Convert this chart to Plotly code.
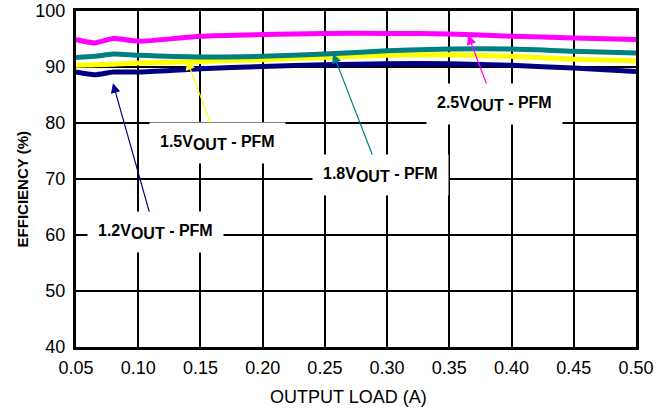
import plotly.graph_objects as go

load_a = [0.05, 0.065, 0.08, 0.10, 0.15, 0.20, 0.25, 0.30, 0.35, 0.40, 0.45, 0.50]
eff_1v2 = [89.1, 88.6, 89.1, 89.1, 89.7, 90.1, 90.4, 90.6, 90.6, 90.3, 89.8, 89.2]
eff_1v5 = [90.3, 90.4, 90.5, 90.7, 91.0, 91.3, 91.7, 92.1, 92.2, 91.9, 91.4, 91.1]
eff_1v8 = [91.7, 91.9, 92.3, 92.1, 91.8, 91.9, 92.3, 92.9, 93.2, 93.2, 92.8, 92.5]
eff_2v5 = [94.9, 94.3, 95.1, 94.6, 95.5, 95.8, 96.0, 96.0, 95.9, 95.5, 95.2, 94.9]

x_ticks = [0.05, 0.10, 0.15, 0.20, 0.25, 0.30, 0.35, 0.40, 0.45, 0.50]
x_ticktext = ["0.05", "0.10", "0.15", "0.20", "0.25", "0.30", "0.35", "0.40", "0.45", "0.50"]
y_ticks = [40, 50, 60, 70, 80, 90, 100]
x_title = "OUTPUT LOAD (A)"
y_title = "EFFICIENCY (%)"

series = [
    ("1.2V", eff_1v2, "#000080"),
    ("1.5V", eff_1v5, "#FFFF00"),
    ("1.8V", eff_1v8, "#008080"),
    ("2.5V", eff_2v5, "#FF00FF"),
]

fig = go.Figure()
for name, ys, col in series:
    fig.add_trace(go.Scatter(x=load_a, y=ys, mode="lines", name=name, cliponaxis=False,
                             line=dict(color=col, width=5, shape="spline", smoothing=0.6)))

SUB = '<sub><span style="font-size:16px">OUT</span></sub>'
labels = [
    # volts, text-center (x,y), arrow head (x,y), color
    ("1.2V", 0.1135, 60.5, 0.0797, 87.1, "#000080"),
    ("1.5V", 0.1641, 76.4, 0.1392, 91.2, "#FFFF00"),
    ("1.8V", 0.2944, 70.7, 0.2566, 92.4, "#008080"),
    ("2.5V", 0.3860, 83.4, 0.3651, 95.7, "#FF00FF"),
]
for volts, tx, ty, hx, hy, col in labels:
    fig.add_annotation(x=hx, y=hy, ax=tx, ay=ty, xref="x", yref="y", axref="x", ayref="y",
                       text="<b>" + volts + SUB + " - PFM</b>", showarrow=True, arrowhead=2,
                       arrowsize=1.6, arrowwidth=1.2, arrowcolor=col, bgcolor="white",
                       borderpad=10,
                       font=dict(family="Liberation Sans, Arial", size=16, color="black"))

# axis titles placed as annotations (paper coords)
fig.add_annotation(text=x_title, xref="paper", yref="paper", x=0.4866, y=-0.1488,
                   xanchor="center", yanchor="middle", showarrow=False,
                   font=dict(family="Liberation Sans, Arial", size=18, color="black"))
fig.add_annotation(text="<b>" + y_title + "</b>", xref="paper", yref="paper", x=-0.0964, y=0.469,
                   xanchor="center", yanchor="middle", showarrow=False, textangle=-90,
                   font=dict(family="Liberation Sans, Arial", size=15, color="black"))

fig.update_layout(
    width=669, height=410,
    margin=dict(l=76, r=33, t=11, b=63),
    paper_bgcolor="white", plot_bgcolor="white",
    showlegend=False,
    font=dict(family="Liberation Sans, Arial", color="black"),
)
fig.update_xaxes(range=[0.05, 0.50], tickvals=x_ticks, ticktext=x_ticktext,
                 showgrid=True, gridcolor="black", gridwidth=2, automargin=False,
                 showline=True, mirror=True, linecolor="black", linewidth=3, ticks="",
                 tickfont=dict(size=18), zeroline=False, ticklabelstandoff=2)
fig.update_yaxes(range=[40, 100], tickvals=y_ticks,
                 showgrid=True, gridcolor="black", gridwidth=2, automargin=False,
                 showline=True, mirror=True, linecolor="black", linewidth=3, ticks="",
                 tickfont=dict(size=18), zeroline=False, ticklabelstandoff=4)

fig.write_html("out.html", config={"displayModeBar": False},
               post_script="document.body.style.margin='0';document.body.style.overflow='hidden';")
